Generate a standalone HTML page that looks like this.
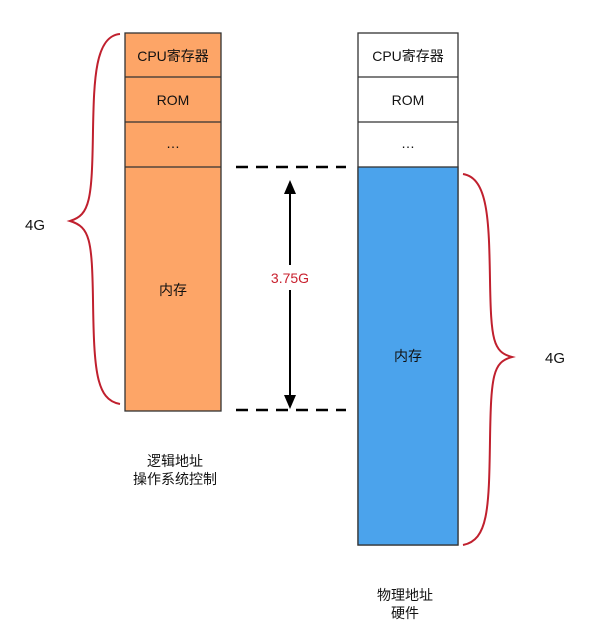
<!DOCTYPE html>
<html><head><meta charset="utf-8"><style>
body{margin:0;background:#fff;}
svg text{font-family:"Liberation Sans","Noto Sans CJK SC",sans-serif;}
</style></head><body>
<svg width="600" height="637" viewBox="0 0 600 637" xmlns="http://www.w3.org/2000/svg">
<g stroke="#333" stroke-width="1.3">
<rect x="125" y="33" width="96" height="378" fill="#fda567"/>
<line x1="125" y1="77" x2="221" y2="77"/>
<line x1="125" y1="122" x2="221" y2="122"/>
<line x1="125" y1="167" x2="221" y2="167"/>
<rect x="358" y="33" width="100" height="512" fill="#fff"/>
<rect x="358" y="167" width="100" height="378" fill="#4ba3ec"/>
<line x1="358" y1="77" x2="458" y2="77"/>
<line x1="358" y1="122" x2="458" y2="122"/>
</g>
<g font-size="14" fill="#111" text-anchor="middle">
<text x="173" y="61">CPU寄存器</text>
<text x="173" y="105">ROM</text>
<text x="173" y="148">…</text>
<text x="173" y="295">内存</text>
<text x="408" y="61">CPU寄存器</text>
<text x="408" y="105">ROM</text>
<text x="408" y="148">…</text>
<text x="408" y="361">内存</text>
<text x="35" y="230" font-size="15">4G</text>
<text x="555" y="363" font-size="15">4G</text>
<text x="175" y="466">逻辑地址</text>
<text x="175" y="484">操作系统控制</text>
<text x="405" y="600">物理地址</text>
<text x="405" y="618">硬件</text>
<text x="290" y="283" fill="#c8202e">3.75G</text>
</g>
<g stroke="#000" stroke-width="2.5" stroke-dasharray="12,8">
<line x1="236" y1="167" x2="346" y2="167"/>
<line x1="236" y1="410" x2="346" y2="410"/>
</g>
<line x1="290" y1="192" x2="290" y2="265" stroke="#000" stroke-width="2"/>
<line x1="290" y1="290" x2="290" y2="396" stroke="#000" stroke-width="2"/>
<polygon points="290,180 284,194 296,194" fill="#000"/>
<polygon points="290,409 284,395 296,395" fill="#000"/>
<g fill="none" stroke="#c0202e" stroke-width="2">
<path d="M120,34 C95,36 94,80 93,130 C92,200 90,215 70,221 C90,227 92,240 93,300 C94,370 96,400 120,404"/>
<path d="M463,174 C488,178 489,220 490,280 C491,340 493,352 512,357 C493,362 491,375 490,440 C489,510 488,540 463,545"/>
</g>
</svg>
</body></html>
